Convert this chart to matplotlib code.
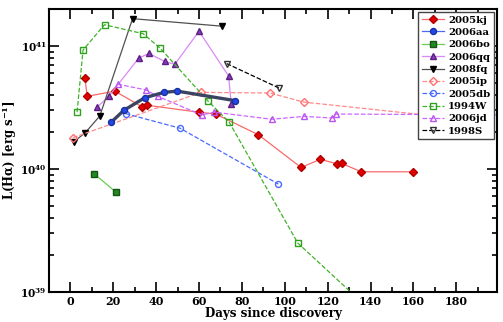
import numpy as np
import matplotlib
matplotlib.use("Agg")
import matplotlib.pyplot as plt
from matplotlib.ticker import FixedLocator, MultipleLocator, LogLocator, FuncFormatter

plt.rcParams['font.family'] = 'DejaVu Serif'
plt.rcParams['font.weight'] = 'bold'
plt.rcParams['mathtext.fontset'] = 'dejavuserif'

# data (days, L(Halpha) in erg/s)
kj_days = [6.8, 7.8, 20.7, 33.5, 35.8, 59.8, 67.8, 87.7, 107.6, 116.6, 124.6, 126.6, 135.7, 159.6]
kj_lum = [5.5e40, 3.9e40, 4.3e40, 3.2e40, 3.3e40, 2.9e40, 2.8e40, 1.9e40, 1.03e40, 1.2e40, 1.1e40, 1.11e40, 9.5e39, 9.5e39]

aa_days = [19.0, 24.9, 34.7, 43.6, 49.8, 76.8]
aa_lum = [2.4e40, 3.0e40, 3.8e40, 4.2e40, 4.3e40, 3.6e40]

bo_days = [11.2, 21.2]
bo_lum = [9.1e39, 6.5e39]

qq_days = [12.6, 17.9, 31.9, 36.7, 43.9, 48.7, 60.0, 73.8, 75.0]
qq_lum = [3.2e40, 3.9e40, 8.0e40, 8.7e40, 7.5e40, 7.1e40, 1.32e41, 5.7e40, 3.4e40]

fq_days = [1.5, 7.0, 13.7, 29.0, 70.8]
fq_lum = [1.66e40, 1.98e40, 2.7e40, 1.67e41, 1.45e41]

ip_days = [1.2, 60.9, 93.1, 109.0, 170.0]
ip_lum = [1.8e40, 4.2e40, 4.15e40, 3.5e40, 2.7e40]

db_days = [25.8, 51.1, 97.0]
db_lum = [2.82e40, 2.15e40, 7.55e39]

w94_days = [3.1, 5.9, 15.9, 33.9, 41.9, 64.0, 74.1, 106.1, 140.0]
w94_lum = [2.9e40, 9.3e40, 1.49e41, 1.26e41, 9.6e40, 3.6e40, 2.4e40, 2.5e39, 7.1e38]

jd_days = [22.0, 35.2, 40.8, 61.2, 67.1, 93.9, 109.0, 122.0, 124.0, 215.0]
jd_lum = [4.9e40, 4.4e40, 3.9e40, 2.75e40, 2.9e40, 2.54e40, 2.68e40, 2.6e40, 2.8e40, 2.75e40]

s98_days = [72.9, 97.3]
s98_lum = [7.2e40, 4.56e40]

fig = plt.figure(figsize=(5.03, 3.22), dpi=100)
ax = fig.add_axes([0.0974, 0.093, 0.8906, 0.879])

ms = 4.3
ax.plot(kj_days, kj_lum, '-', color='#f86a6a', lw=0.9, marker='D', ms=3.6,
        mfc='#e00000', mec='#b00000', label='2005kj')
ax.plot(aa_days, aa_lum, '-', color='#3c4463', lw=2.4, zorder=3)
ax.plot(aa_days, aa_lum, '-', color='#3c4463', lw=0.9, marker='o', ms=ms,
        mfc='#2448e8', mec='#1a2fa0', zorder=4)
ax.plot([], [], '-', color='#4a6af0', lw=0.9, marker='o', ms=ms,
        mfc='#2448e8', mec='#1a2fa0', label='2006aa')
ax.plot(bo_days, bo_lum, '-', color='#6ccc50', lw=0.9, marker='s', ms=ms,
        mfc='#228822', mec='#145514', label='2006bo')
ax.plot(qq_days, qq_lum, '-', color='#d88af5', lw=0.9, marker='^', ms=4.8,
        mfc='#8a3cc0', mec='#5a2080', label='2006qq')
ax.plot(fq_days, fq_lum, '-', color='#505050', lw=0.9, marker='v', ms=4.8,
        mfc='black', mec='black', label='2008fq')
ax.plot(ip_days, ip_lum, '--', color='#ff8a8a', lw=0.9, marker='D', ms=3.8,
        mfc='none', mec='#ff7070', label='2005ip')
ax.plot(db_days, db_lum, '--', color='#4a6aff', lw=0.9, marker='o', ms=ms,
        mfc='none', mec='#4a6aff', label='2005db')
ax.plot(w94_days, w94_lum, '--', color='#40b428', lw=0.9, marker='s', ms=ms,
        mfc='none', mec='#30a020', label='1994W')
ax.plot(jd_days, jd_lum, '--', color='#cc66ff', lw=0.9, marker='^', ms=4.8,
        mfc='none', mec='#bb55ee', label='2006jd')
ax.plot(s98_days, s98_lum, '--', color='black', lw=0.9, marker='v', ms=4.8,
        mfc='none', mec='#333333', label='1998S')

ax.set_yscale('log')
ax.set_xlim(-10, 199)
ax.set_ylim(1e39, 2e41)

ax.xaxis.set_major_locator(MultipleLocator(20))
ax.xaxis.set_minor_locator(MultipleLocator(10))
ax.yaxis.set_major_locator(FixedLocator([1e39, 1e40, 1e41]))
ax.yaxis.set_minor_locator(LogLocator(base=10, subs=np.arange(2, 10)))
ax.yaxis.set_major_formatter(FuncFormatter(lambda v, p: r'$\mathbf{10^{%d}}$' % int(round(np.log10(v)))))
ax.xaxis.set_major_formatter(FuncFormatter(lambda v, p: '%d' % v if v >= 0 else ''))

ax.tick_params(which='both', direction='in', top=True, right=True, width=1.2, labelsize=8)
ax.tick_params(which='major', length=7, pad=3)
ax.tick_params(axis='y', which='major', pad=1.5, labelsize=7.6)
ax.tick_params(which='minor', length=3.5)
for s in ax.spines.values():
    s.set_linewidth(1.5)

ax.set_xlabel('Days since discovery', fontsize=8.6, fontweight='bold', labelpad=0)
ax.set_ylabel(r'L(H$\mathbf{\alpha}$) [erg s$^{\mathbf{-1}}$]', fontsize=8.4, fontweight='bold')
ax.yaxis.set_label_coords(-0.067, 0.5)

leg = ax.legend(loc='upper right', fontsize=7.3, frameon=True, fancybox=False,
                edgecolor='#444444', framealpha=1, handlelength=2.2, handletextpad=0.4,
                labelspacing=0.32, borderpad=0.35, borderaxespad=0.3)
leg.get_frame().set_linewidth(1.0)

fig.savefig('out.png', dpi=100)
